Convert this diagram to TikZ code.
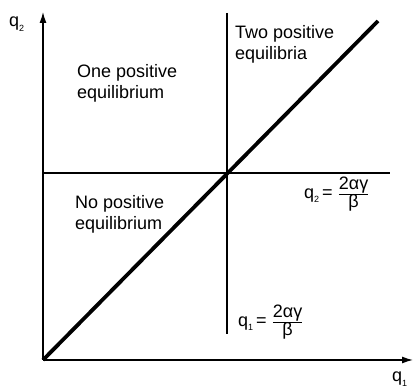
\documentclass[tikz,border=0pt]{standalone}
\usepackage{fontspec}
\setmainfont{Liberation Sans}
\usetikzlibrary{arrows.meta,positioning}

\newcommand{\qsub}[1]{q\raisebox{-0.5ex}{\fontsize{9}{10}\selectfont #1}}
\newcommand{\critval}{$\frac{\mbox{2αγ}}{\mbox{β}}$}

\begin{document}
\begin{tikzpicture}[x=1pt,y=-1pt,
    axis/.style={-{Latex[length=11pt,width=7pt]},line width=1.3pt},
    border/.style={line width=1.1pt},
    diag/.style={line width=3.8pt},
    region/.style={font=\fontsize{18}{21}\selectfont,align=left,anchor=west,inner sep=0pt},
    crit/.style={font=\fontsize{18}{21}\selectfont,anchor=west,inner sep=0pt}]
\useasboundingbox (0,0) rectangle (413,387);
\coordinate (origin) at (43,360);
\coordinate (ytop) at (43,12);
\coordinate (xend) at (413,360);
\coordinate (vtop) at (227,13);
\coordinate (vbot) at (227,334);
\coordinate (hend) at (390,173);
\coordinate (dtop) at (378,21);
\draw[axis] (origin) -- (ytop);
\draw[axis] (origin) -- (xend);
\draw[border] (vtop) -- (vbot);
\draw[border] (origin |- hend) -- (hend);
\draw[diag] (origin) -- (dtop);

\node[crit] (ylab) at (9,24) {\qsub{2}};
\node[crit] (xlab) at (392,379) {\qsub{1}};
\node[region] (two) at (235,44) {Two positive\\equilibria};
\node[region] (one) at (77,83) {One positive\\equilibrium};
\node[region] (none) at (75,214) {No positive\\equilibrium};
\node[crit] (qtwo) at (304,194) {\qsub{2}\,= \critval};
\node[crit] (qone) at (238,322) {\qsub{1}\,= \critval};
\end{tikzpicture}
\end{document}
